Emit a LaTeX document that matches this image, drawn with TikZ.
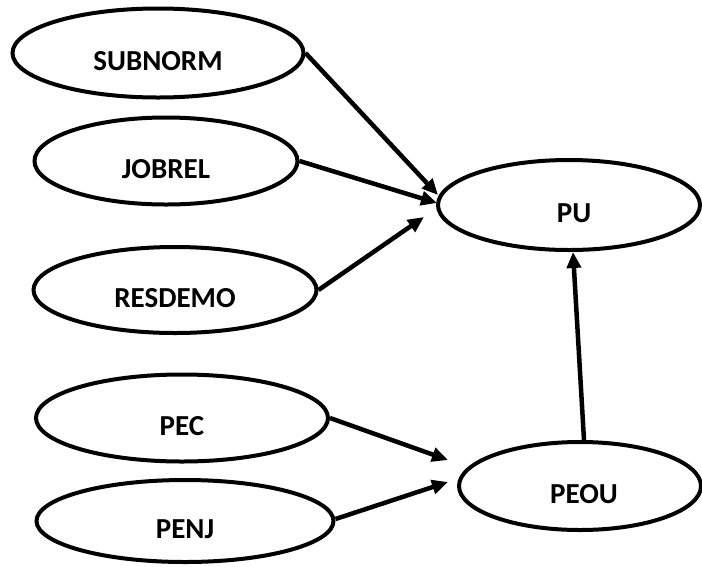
\documentclass[tikz,border=0pt]{standalone}
\usepackage{fontspec}
\setmainfont{Carlito}
\usetikzlibrary{shapes.geometric,arrows.meta}
\begin{document}
\begin{tikzpicture}[x=1pt,y=-1pt,
  oval/.style={ellipse,draw,line width=4pt,inner sep=0pt,
    font=\fontsize{29}{34}\selectfont\bfseries,text height=34pt,text depth=0pt},
  link/.style={line width=4.5pt,-{Triangle[length=16pt,width=14pt]}}]
\useasboundingbox (0,0) rectangle (702,566);
\node[oval,minimum width=291pt,minimum height=89pt] (subnorm) at (158,53) {SUBNORM};
\node[oval,minimum width=263pt,minimum height=87pt] (jobrel) at (166,161) {JOBREL};
\node[oval,minimum width=283pt,minimum height=86pt] (resdemo) at (175,290) {RESDEMO};
\node[oval,minimum width=292pt,minimum height=87pt] (pec) at (182,418) {PEC};
\node[oval,minimum width=297pt,minimum height=82pt] (penj) at (185,521) {PENJ};
\node[oval,minimum width=262pt,minimum height=90pt] (pu) at (569,205) {\hspace*{10pt}PU};
\node[oval,minimum width=242pt,minimum height=88pt] (peou) at (580,486) {\hspace*{8pt}PEOU};
\draw[link] (subnorm.east) -- ([shift={(2,-10)}]pu.west);
\draw[link] (jobrel.east) -- ([shift={(1,-2)}]pu.west);
\draw[link] (resdemo.east) -- ([shift={(-12,12)}]pu.west);
\draw[link] ([xshift=4pt]peou.north) -- ([xshift=4pt]pu.south);
\draw[link] (pec.east) -- ([shift={(-9,-26)}]peou.west);
\draw[link] ([yshift=2pt]penj.east) -- ([shift={(-9,-4)}]peou.west);
\end{tikzpicture}
\end{document}
